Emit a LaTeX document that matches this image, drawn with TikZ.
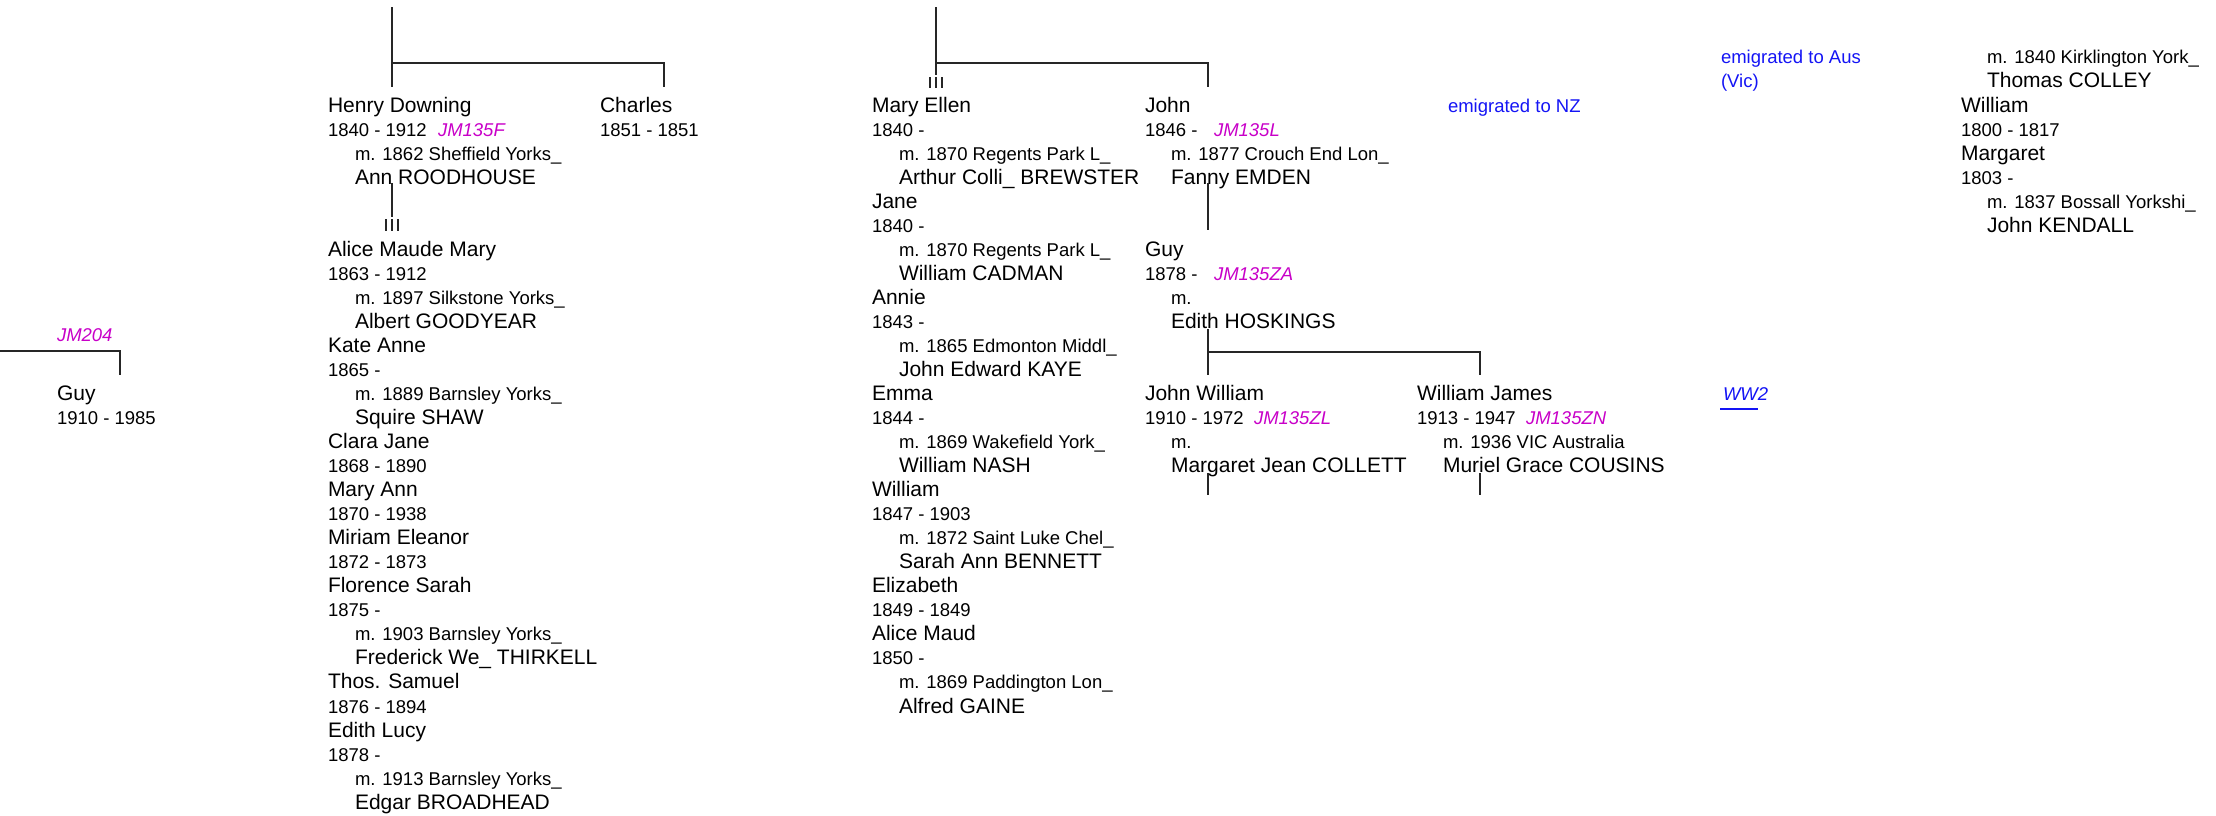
\documentclass[tikz,border=0pt]{standalone}
\usepackage{fontspec}
\setmainfont{Liberation Sans}
\definecolor{jmcol}{RGB}{200,0,200}
\definecolor{linkblue}{RGB}{20,20,245}
\tikzset{
  txtbase/.style={anchor=base west, inner sep=0pt, outer sep=0pt, text=black},
  nm/.style={txtbase, font=\fontsize{21}{24}\selectfont},
  sm/.style={txtbase, font=\fontsize{18.5}{22}\selectfont},
  jm/.style={txtbase, font=\fontsize{18.5}{22}\selectfont\itshape, text=jmcol},
  em/.style={txtbase, font=\fontsize{18.5}{22}\selectfont, text=linkblue},
  ww/.style={txtbase, font=\fontsize{18.5}{22}\selectfont\itshape, text=linkblue},
  ln/.style={line width=1.3pt, draw=black!85},
  ul/.style={line width=1.3pt, draw=linkblue},
}
\newcommand\pn[5]{\node[#4] (#1) at (#2,{112+24.04*(#3)}) {#5};}
\begin{document}
\begin{tikzpicture}[x=1pt,y=-1pt]
\useasboundingbox (0,0) rectangle (2216,815);

% ---------- far left: Guy ----------
\pn{jmtwo}{57}{9.55}{jm}{JM204}
\pn{guyl}{57}{12}{nm}{Guy}
\pn{guyld}{57}{13}{sm}{1910 - 1985}

% ---------- column A ----------
\pn{henry}{328}{0}{nm}{Henry Downing}
\pn{henryd}{328}{1}{sm}{1840 - 1912}
\pn{henryjm}{438}{1}{jm}{JM135F}
\pn{henrym}{355}{2}{sm}{m. 1862 Sheffield Yorks\_}
\pn{ann}{355}{3}{nm}{Ann ROODHOUSE}
\pn{charles}{600}{0}{nm}{Charles}
\pn{charlesd}{600}{1}{sm}{1851 - 1851}
\pn{alice}{328}{6}{nm}{Alice Maude Mary}
\pn{aliced}{328}{7}{sm}{1863 - 1912}
\pn{alicem}{355}{8}{sm}{m. 1897 Silkstone Yorks\_}
\pn{albert}{355}{9}{nm}{Albert GOODYEAR}
\pn{kate}{328}{10}{nm}{Kate Anne}
\pn{kated}{328}{11}{sm}{1865 -}
\pn{katem}{355}{12}{sm}{m. 1889 Barnsley Yorks\_}
\pn{squire}{355}{13}{nm}{Squire SHAW}
\pn{clara}{328}{14}{nm}{Clara Jane}
\pn{clarad}{328}{15}{sm}{1868 - 1890}
\pn{maryann}{328}{16}{nm}{Mary Ann}
\pn{maryannd}{328}{17}{sm}{1870 - 1938}
\pn{miriam}{328}{18}{nm}{Miriam Eleanor}
\pn{miriamd}{328}{19}{sm}{1872 - 1873}
\pn{florence}{328}{20}{nm}{Florence Sarah}
\pn{florenced}{328}{21}{sm}{1875 -}
\pn{florencem}{355}{22}{sm}{m. 1903 Barnsley Yorks\_}
\pn{frederick}{355}{23}{nm}{Frederick We\_ THIRKELL}
\pn{thos}{328}{24}{nm}{Thos. Samuel}
\pn{thosd}{328}{25}{sm}{1876 - 1894}
\pn{edithl}{328}{26}{nm}{Edith Lucy}
\pn{edithld}{328}{27}{sm}{1878 -}
\pn{edithlm}{355}{28}{sm}{m. 1913 Barnsley Yorks\_}
\pn{edgar}{355}{29}{nm}{Edgar BROADHEAD}

% ---------- column B ----------
\pn{maryellen}{872}{0}{nm}{Mary Ellen}
\pn{maryellend}{872}{1}{sm}{1840 -}
\pn{maryellenm}{899}{2}{sm}{m. 1870 Regents Park L\_}
\pn{arthur}{899}{3}{nm}{Arthur Colli\_ BREWSTER}
\pn{jane}{872}{4}{nm}{Jane}
\pn{janed}{872}{5}{sm}{1840 -}
\pn{janem}{899}{6}{sm}{m. 1870 Regents Park L\_}
\pn{cadman}{899}{7}{nm}{William CADMAN}
\pn{annie}{872}{8}{nm}{Annie}
\pn{annied}{872}{9}{sm}{1843 -}
\pn{anniem}{899}{10}{sm}{m. 1865 Edmonton Middl\_}
\pn{kaye}{899}{11}{nm}{John Edward KAYE}
\pn{emma}{872}{12}{nm}{Emma}
\pn{emmad}{872}{13}{sm}{1844 -}
\pn{emmam}{899}{14}{sm}{m. 1869 Wakefield York\_}
\pn{nash}{899}{15}{nm}{William NASH}
\pn{williamb}{872}{16}{nm}{William}
\pn{williambd}{872}{17}{sm}{1847 - 1903}
\pn{williambm}{899}{18}{sm}{m. 1872 Saint Luke Chel\_}
\pn{bennett}{899}{19}{nm}{Sarah Ann BENNETT}
\pn{elizabeth}{872}{20}{nm}{Elizabeth}
\pn{elizabethd}{872}{21}{sm}{1849 - 1849}
\pn{alicemaud}{872}{22}{nm}{Alice Maud}
\pn{alicemaudd}{872}{23}{sm}{1850 -}
\pn{alicemaudm}{899}{24}{sm}{m. 1869 Paddington Lon\_}
\pn{gaine}{899}{25}{nm}{Alfred GAINE}

% ---------- column C ----------
\pn{john}{1145}{0}{nm}{John}
\pn{johnd}{1145}{1}{sm}{1846 -}
\pn{johnjm}{1214}{1}{jm}{JM135L}
\pn{johnm}{1171}{2}{sm}{m. 1877 Crouch End Lon\_}
\pn{fanny}{1171}{3}{nm}{Fanny EMDEN}
\pn{guyc}{1145}{6}{nm}{Guy}
\pn{guycd}{1145}{7}{sm}{1878 -}
\pn{guycjm}{1214}{7}{jm}{JM135ZA}
\pn{guycm}{1171}{8}{sm}{m.}
\pn{hoskings}{1171}{9}{nm}{Edith HOSKINGS}
\pn{johnw}{1145}{12}{nm}{John William}
\pn{johnwd}{1145}{13}{sm}{1910 - 1972}
\pn{johnwjm}{1254}{13}{jm}{JM135ZL}
\pn{johnwm}{1171}{14}{sm}{m.}
\pn{collett}{1171}{15}{nm}{Margaret Jean COLLETT}

% ---------- column D ----------
\pn{williamj}{1417}{12}{nm}{William James}
\pn{williamjd}{1417}{13}{sm}{1913 - 1947}
\pn{williamjjm}{1526}{13}{jm}{JM135ZN}
\pn{williamjm}{1443}{14}{sm}{m. 1936 VIC Australia}
\pn{cousins}{1443}{15}{nm}{Muriel Grace COUSINS}

% ---------- notes ----------
\pn{emnz}{1448}{0}{em}{emigrated to NZ}
\pn{emaus}{1721}{-2}{em}{emigrated to Aus}
\pn{emvic}{1721}{-1}{em}{(Vic)}
\pn{wwtwo}{1723}{12}{ww}{WW2}

% ---------- right column ----------
\pn{colleym}{1987}{-2}{sm}{m. 1840 Kirklington York\_}
\pn{colley}{1987}{-1}{nm}{Thomas COLLEY}
\pn{williamr}{1961}{0}{nm}{William}
\pn{williamrd}{1961}{1}{sm}{1800 - 1817}
\pn{margaretr}{1961}{2}{nm}{Margaret}
\pn{margaretrd}{1961}{3}{sm}{1803 -}
\pn{margaretrm}{1987}{4}{sm}{m. 1837 Bossall Yorkshi\_}
\pn{kendall}{1987}{5}{nm}{John KENDALL}

% ---------- connector points ----------
\coordinate (aTop) at (392,7);
\coordinate (aMid) at (392,63);
\coordinate (aBot) at (392,87);
\coordinate (chTop) at (664,63);
\coordinate (chBot) at (664,87);
\coordinate (annL) at (392,183);
\coordinate (annE) at (392,216.5);
\coordinate (bTop) at (936,7);
\coordinate (bMid) at (936,63);
\coordinate (bEnd) at (936,74.5);
\coordinate (jTop) at (1208,63);
\coordinate (jBot) at (1208,87);
\coordinate (fanL) at (1208,183);
\coordinate (guyT) at (1208,230);
\coordinate (hosL) at (1208,329);
\coordinate (hosM) at (1208,352);
\coordinate (jwT) at (1208,375);
\coordinate (wjM) at (1480,352);
\coordinate (wjT) at (1480,375);
\coordinate (colB) at (1208,473);
\coordinate (colE) at (1208,495);
\coordinate (couB) at (1480,473);
\coordinate (couE) at (1480,495);
\coordinate (gL) at (0,351);
\coordinate (gM) at (120,351);
\coordinate (gT) at (120,375);
\coordinate (wwA) at (1720,409);
\coordinate (wwB) at (1758,409);

% ---------- connectors ----------
\draw[ln] (aTop) -- (aBot);
\draw[ln] (aMid) -- (chTop) -- (chBot);
\draw[ln] (annL) -- (annE);
\foreach \dx in {-6,0,6} \draw[ln] ([xshift=\dx pt]annE) ++(0,2.5) -- ++(0,12);
\draw[ln] (bTop) -- (bEnd);
\draw[ln] (bMid) -- (jTop) -- (jBot);
\foreach \dx in {-6,0,6} \draw[ln] ([xshift=\dx pt]bEnd) ++(0,2.5) -- ++(0,10.5);
\draw[ln] (fanL) -- (guyT);
\draw[ln] (hosL) -- (jwT);
\draw[ln] (hosM) -- (wjM) -- (wjT);
\draw[ln] (colB) -- (colE);
\draw[ln] (couB) -- (couE);
\draw[ln] (gL) -- (gM) -- (gT);
\draw[ul] (wwA) -- (wwB);
\end{tikzpicture}
\end{document}
